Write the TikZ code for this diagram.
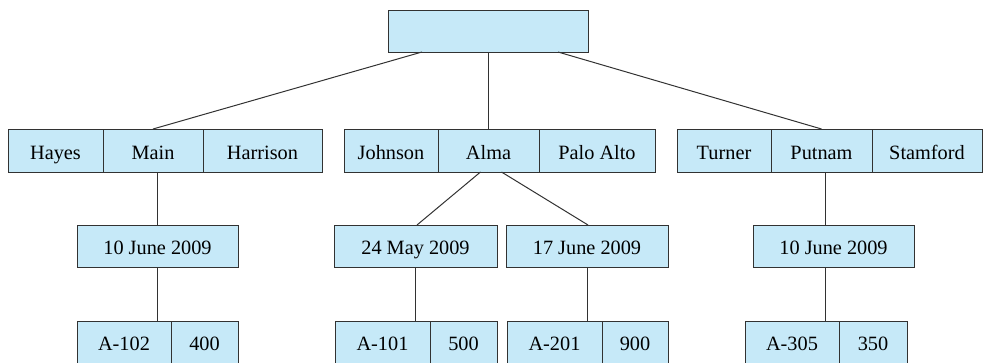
\documentclass[tikz,border=0pt]{standalone}
\usepackage{fontspec}
\setmainfont{Liberation Serif}
\usetikzlibrary{calc}

\definecolor{cellfill}{RGB}{198,233,248}
\definecolor{celledge}{RGB}{50,50,50}

\tikzset{
  cell/.style={draw=celledge, fill=cellfill, line width=1pt, rectangle,
    inner sep=0pt, outer sep=0pt, minimum height=42pt,
    text height=22pt, text depth=5pt,
    font=\fontsize{20.3}{24}\selectfont},
  link/.style={draw=celledge, line width=1pt},
}

\begin{document}
\begin{tikzpicture}[x=1pt, y=-1pt]
  \useasboundingbox (0,0) rectangle (986,362);

  % root node
  \node[cell, minimum width=200pt] (root) at (488,31) {};

  % branch-name level
  \node[cell, minimum width=95pt, minimum height=43pt]  (hayes)    at (55.5,150.5) {Hayes};
  \node[cell, minimum width=100pt, minimum height=43pt] (main)     at (153,150.5) {Main};
  \node[cell, minimum width=119pt, minimum height=43pt] (harrison) at (262.5,150.5) {Harrison};

  \node[cell, minimum width=94pt, minimum height=43pt]  (johnson)  at (391,150.5) {Johnson};
  \node[cell, minimum width=101pt, minimum height=43pt] (alma)     at (488.5,150.5) {Alma};
  \node[cell, minimum width=116pt, minimum height=43pt] (paloalto) at (597,150.5) {Palo Alto};

  \node[cell, minimum width=94pt, minimum height=43pt]  (turner)   at (724,150.5) {Turner};
  \node[cell, minimum width=101pt, minimum height=43pt] (putnam)   at (821.5,150.5) {Putnam};
  \node[cell, minimum width=110pt, minimum height=43pt] (stamford) at (927,150.5) {Stamford};

  % date level
  \node[cell, minimum width=161pt] (junea)  at (157.5,246) {10 June 2009};
  \node[cell, minimum width=163pt] (may)    at (415.5,246) {24 May 2009};
  \node[cell, minimum width=162pt] (juneb)  at (587,246) {17 June 2009};
  \node[cell, minimum width=161pt] (junec)  at (833.5,246) {10 June 2009};

  % account level
  \node[cell, minimum width=94pt] (a102) at (124,342) {A-102};
  \node[cell, minimum width=67pt] (b400) at (204.5,342) {400};
  \node[cell, minimum width=95pt] (a101) at (382.5,342) {A-101};
  \node[cell, minimum width=67pt] (b500) at (463.5,342) {500};
  \node[cell, minimum width=95pt] (a201) at (554.5,342) {A-201};
  \node[cell, minimum width=66pt] (b900) at (635,342) {900};
  \node[cell, minimum width=94pt] (a305) at (792,342) {A-305};
  \node[cell, minimum width=68pt] (b350) at (873,342) {350};

  % links from the root
  \draw[link] ($(root.south west)!0.17!(root.south east)$) -- (main.north);
  \draw[link] (root.south) -- (root.south |- alma.north);
  \draw[link] ($(root.south west)!0.85!(root.south east)$) -- (putnam.north);

  % links to the date level
  \draw[link] (junea.north |- main.south) -- (junea.north);
  \draw[link] ([xshift=-8pt]alma.south) -- ([xshift=1.5pt]may.north);
  \draw[link] ([xshift=13pt]alma.south) -- ([xshift=1pt]juneb.north);
  \coordinate (pdrop) at ([xshift=3.5pt]putnam.south);
  \draw[link] (pdrop) -- (pdrop |- junec.north);

  % links to the account level
  \draw[link] (junea.south) -- (junea.south |- a102.north);
  \draw[link] (may.south) -- (may.south |- a101.north);
  \draw[link] (juneb.south) -- (juneb.south |- a201.north);
  \draw[link] (pdrop |- junec.south) -- (pdrop |- a305.north);
\end{tikzpicture}
\end{document}
